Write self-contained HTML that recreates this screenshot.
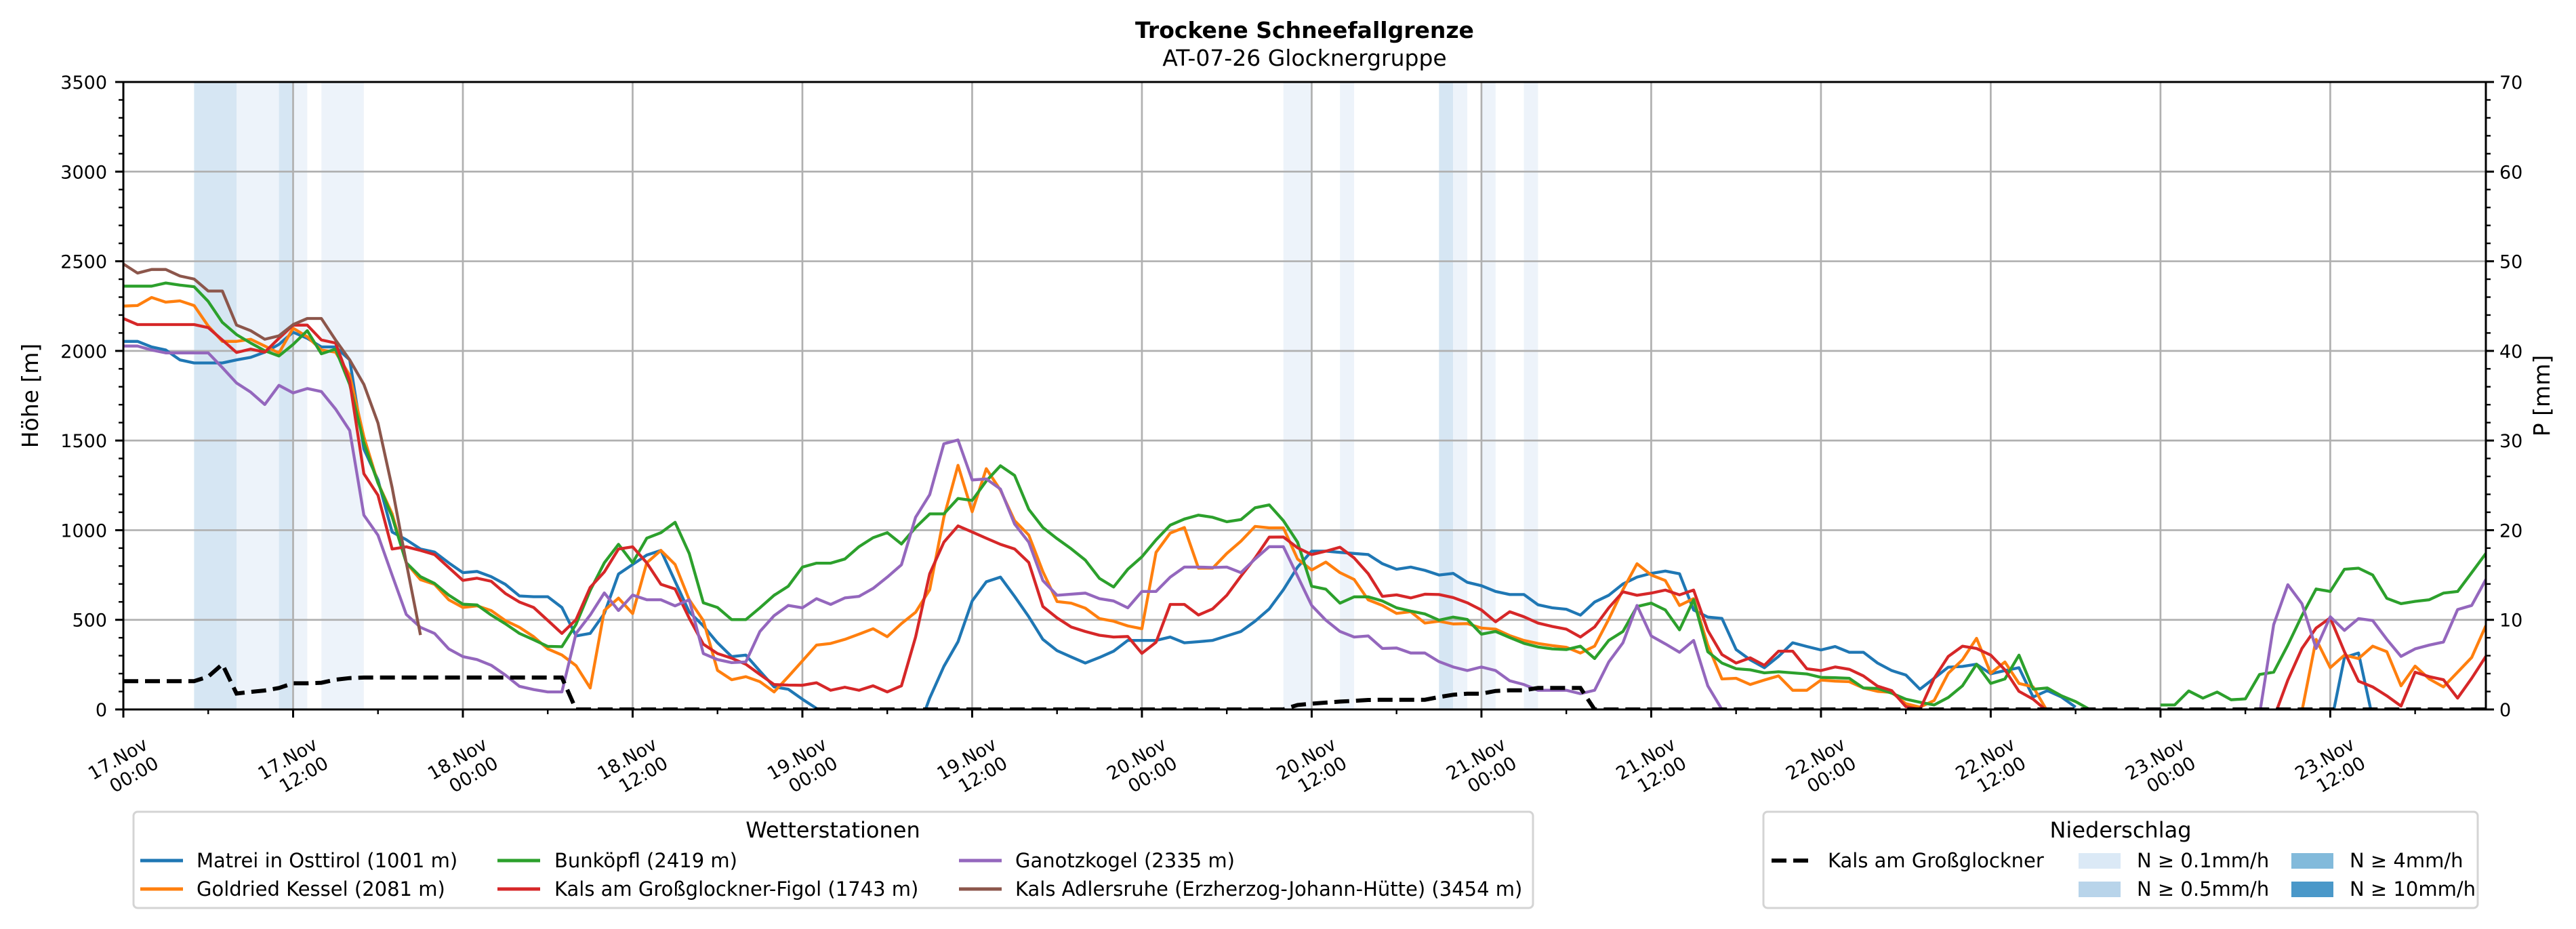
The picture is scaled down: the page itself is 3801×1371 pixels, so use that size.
<!DOCTYPE html>
<html><head><meta charset="utf-8"><style>
html,body{margin:0;padding:0;background:#fff;}
svg{display:block;font-family:"DejaVu Sans","Liberation Sans",sans-serif;}
</style></head><body>
<svg id="chart" width="3801" height="1371" viewBox="0 0 3801 1371" xmlns="http://www.w3.org/2000/svg">
<defs><clipPath id="plotclip"><rect x="182" y="121" width="3486" height="926"/></clipPath></defs>
<text x="1925" y="56" text-anchor="middle" font-size="33" font-weight="bold">Trockene Schneefallgrenze</text>
<text x="1925" y="97" text-anchor="middle" font-size="33">AT-07-26 Glocknergruppe</text>
<g id="bands"></g>
<g id="grid"></g>
<g id="series" clip-path="url(#plotclip)"></g>
<g id="axes"></g>
<text transform="translate(56,584) rotate(-90)" text-anchor="middle" font-size="33">Höhe [m]</text>
<text transform="translate(3762,584) rotate(-90)" text-anchor="middle" font-size="33">P [mm]</text>
<g id="legend1">
<rect x="197" y="1198" width="2065" height="142" rx="6" fill="#fff" stroke="#d4d4d4" stroke-width="3"/>
<text x="1229" y="1236" text-anchor="middle" font-size="32">Wetterstationen</text>
</g>
<g id="legend2">
<rect x="2602" y="1198" width="1054" height="142" rx="6" fill="#fff" stroke="#d4d4d4" stroke-width="3"/>
<text x="3129" y="1236" text-anchor="middle" font-size="32">Niederschlag</text>
<line x1="2614" y1="1270" x2="2670" y2="1270" stroke="#000" stroke-width="6" stroke-dasharray="22,10"/>
<text x="2697" y="1280" font-size="29">Kals am Großglockner</text>
<rect x="3067" y="1259" width="62" height="23" fill="#dbe9f6"/>
<text x="3153" y="1280" font-size="29">N ≥ 0.1mm/h</text>
<rect x="3067" y="1301" width="62" height="23" fill="#b8d4ea"/>
<text x="3153" y="1322" font-size="29">N ≥ 0.5mm/h</text>
<rect x="3381" y="1259" width="62" height="23" fill="#82badb"/>
<text x="3467" y="1280" font-size="29">N ≥ 4mm/h</text>
<rect x="3381" y="1301" width="62" height="23" fill="#4a98c9"/>
<text x="3467" y="1322" font-size="29">N ≥ 10mm/h</text>
</g>
</svg>
<script>
const seriesNames = ["Matrei in Osttirol (1001 m)","Goldried Kessel (2081 m)","Bunköpfl (2419 m)","Kals am Großglockner-Figol (1743 m)","Ganotzkogel (2335 m)","Kals Adlersruhe (Erzherzog-Johann-Hütte) (3454 m)"];
const seriesColors = ["#1f77b4","#ff7f0e","#2ca02c","#d62728","#9467bd","#8c564b"];
const matrei = [2053,2053,2022,2005,1950,1933,1933,1933,1950,1964,1993,2036,
2104,2070,2022,2022,1950,1453,1281,990,947,895,878,818,
763,770,741,698,633,629,629,569,410,424,535,755,
809,861,887,715,544,466,372,295,303,214,126,113,
57,6,null,null,null,null,null,null,-150,63,240,378,
605,712,738,631,517,391,328,293,259,290,325,385,
385,385,404,372,378,385,410,435,492,561,668,794,
883,883,876,870,864,813,782,794,776,750,759,709,
690,658,641,641,584,567,559,526,599,637,700,738,
759,772,757,555,515,508,334,277,233,296,372,351,
332,351,319,319,259,217,192,113,174,236,240,252,
199,217,233,69,105,69,13,null,null,null,null,null,
null,null,null,null,null,null,null,null,null,null,null,null,
-100,290,315,-50,null,null,null,null,null,null,null,null];
const goldried = [2250,2253,2298,2272,2279,2253,2139,2053,2053,2065,2027,1988,
2127,2079,2005,1993,1864,1521,1264,1092,818,724,698,612,
569,578,552,496,458,406,338,304,244,120,552,621,
535,818,887,809,612,496,218,166,183,155,98,183,
271,359,368,391,420,450,406,479,542,668,1072,1362,
1103,1343,1223,1053,973,769,602,593,565,507,492,466,
450,876,984,1015,788,788,870,939,1021,1013,1013,839,
778,822,763,725,611,580,536,545,482,492,477,479,
454,448,412,385,368,356,347,315,353,504,668,813,
750,719,580,618,359,170,174,139,164,187,107,107,
164,158,155,120,101,95,32,13,50,202,277,397,
202,265,145,126,-10,null,null,null,null,null,null,null,
null,null,null,null,null,null,null,null,null,null,-10,391,
233,303,284,353,322,132,242,170,126,208,290,467];
const bunkoepfl = [2361,2361,2361,2379,2367,2358,2276,2159,2091,2044,2001,1972,
2036,2113,1984,2010,1813,1487,1264,1075,818,741,703,638,
587,583,527,478,424,389,352,350,475,664,818,921,
818,955,986,1044,870,595,569,501,501,567,637,687,
794,816,816,839,908,958,986,923,1015,1091,1091,1177,
1166,1274,1359,1305,1116,1015,953,896,833,731,683,782,
851,946,1028,1062,1084,1072,1047,1059,1125,1141,1053,933,
687,671,593,628,628,605,567,549,533,498,515,502,
420,435,401,369,349,338,334,353,284,385,435,574,
593,555,444,612,322,259,227,221,204,210,204,198,
179,177,174,120,117,91,57,40,25,67,132,252,
145,170,303,113,120,76,44,0,null,null,null,null,
25,25,103,63,97,54,59,195,208,359,523,672,
658,782,788,750,620,590,603,612,649,658,763,870];
const figol = [2181,2147,2147,2147,2147,2147,2130,2061,1991,2010,1993,2070,
2144,2144,2061,2044,1830,1315,1195,895,907,887,864,792,
720,732,715,647,599,569,497,424,501,681,767,895,
907,818,698,672,509,364,312,286,252,195,139,136,
135,149,107,124,107,132,98,132,404,757,933,1024,
990,955,921,895,820,574,511,460,435,414,404,407,
313,375,586,586,527,561,637,744,845,961,962,902,
864,883,905,845,757,631,639,622,643,641,624,595,
555,489,545,517,482,463,448,404,460,567,656,637,
649,666,639,666,441,306,259,288,246,325,325,227,
217,237,224,187,130,105,16,0,174,296,353,340,
303,221,101,57,-10,null,null,null,null,null,null,null,
null,null,null,null,null,null,null,null,-50,164,340,454,
511,322,158,126,76,19,208,183,166,63,174,296];
const ganotzkogel = [2027,2027,2005,1989,1989,1989,1989,1907,1821,1770,1701,1808,
1766,1790,1773,1676,1556,1084,972,749,530,458,424,338,
295,278,247,192,129,111,98,98,424,527,650,552,
638,612,612,578,612,312,278,261,265,435,523,580,
567,618,586,622,631,675,738,807,1072,1198,1482,1503,
1280,1286,1229,1034,933,719,637,643,649,618,605,567,
658,658,738,794,794,792,794,763,839,908,908,744,
580,498,435,404,410,340,343,315,315,267,237,217,
237,217,160,139,107,107,107,88,107,265,372,580,
410,366,319,385,132,0,null,null,null,null,null,null,
null,null,null,null,null,null,null,null,null,null,null,null,
null,null,null,null,null,null,null,null,null,null,null,null,
null,null,null,null,null,null,null,-30,473,696,590,340,
517,441,507,496,391,296,338,359,376,557,580,725];
const adlersruhe = [2485,2434,2454,2454,2418,2401,2334,2334,2144,2113,2065,2084,
2147,2181,2181,2061,1950,1813,1598,1238,818,415,null,null];
const kalsPrecip = [3.16,3.16,3.16,3.16,3.16,3.16,3.66,5.04,1.78,1.96,2.12,2.4,
2.92,2.92,2.98,3.32,3.5,3.56,3.56,3.56,3.56,3.56,3.56,3.56,
3.56,3.56,3.56,3.56,3.56,3.56,3.56,3.56,0,0,0,0,
0,0,0,0,0,0,0,0,0,0,0,0,
0,0,0,0,0,0,0,0,0,0,0,0,
0,0,0,0,0,0,0,0,0,0,0,0,
0,0,0,0,0,0,0,0,0,0,0,0.5,
0.64,0.76,0.88,0.96,1.06,1.08,1.08,1.08,1.08,1.38,1.64,1.76,
1.76,2.06,2.14,2.14,2.4,2.4,2.4,2.4,0,0,0,0,
0,0,0,0,0,0,0,0,0,0,0,0,
0,0,0,0,0,0,0,0,0,0,0,0,
0,0,0,0,0,0,0,0,0,0,0,0,
0,0,0,0,0,0,0,0,0,0,0,0,
0,0,0,0,0,0,0,0,0,0,0,0];
const bandStart = [5,8,11,12,14,82,86,93,94,96,99];
const bandEnd   = [8,11,12,13,17,84,87,94,95,97,100];
const bandLevel = [2,1,2,1,1,1,1,2,1,1,1];
const xTickDays = ["17.Nov","17.Nov","18.Nov","18.Nov","19.Nov","19.Nov","20.Nov","20.Nov","21.Nov","21.Nov","22.Nov","22.Nov","23.Nov","23.Nov"];
const xTickTimes = ["00:00","12:00","00:00","12:00","00:00","12:00","00:00","12:00","00:00","12:00","00:00","12:00","00:00","12:00"];
const yTicks = [0,500,1000,1500,2000,2500,3000,3500];
const y2Ticks = [0,10,20,30,40,50,60,70];

const NS="http://www.w3.org/2000/svg";
const L=182,R=3668,T=121,B=1047,HMAX=167;
const xs=h=>L+h*(R-L)/HMAX;
const ys=m=>B-m*(B-T)/3500;
const ys2=p=>B-p*(B-T)/70;
function mk(tag,attrs,parent){const e=document.createElementNS(NS,tag);for(const k in attrs)e.setAttribute(k,attrs[k]);parent.appendChild(e);return e;}
const gB=document.getElementById('bands'),gG=document.getElementById('grid'),gS=document.getElementById('series'),gA=document.getElementById('axes');
const bandColors=["#fff","#edf3fa","#d6e6f3"];
bandStart.forEach((s,i)=>{
  const r=mk('rect',{x:xs(s),y:T,width:xs(bandEnd[i])-xs(s),height:B-T,fill:bandColors[bandLevel[i]]},gB);
  
  
});
xTickDays.forEach((d,i)=>{
  const x=xs(i*12);
  const l=mk('line',{x1:x,y1:T,x2:x,y2:B,stroke:"#b0b0b0","stroke-width":2.7},gG);
  
  
});
yTicks.forEach(v=>{
  const y=ys(v);
  const l=mk('line',{x1:L,y1:y,x2:R,y2:y,stroke:"#b0b0b0","stroke-width":2.7},gG);
  
  
});
const allSeries=[matrei,goldried,bunkoepfl,figol,ganotzkogel,adlersruhe];
function pathFor(arr,fy){let d="",pen=false;arr.forEach((v,h)=>{if(v===null||v===undefined){pen=false;return;}d+=(pen?"L":"M")+xs(h).toFixed(1)+","+fy(v).toFixed(1);pen=true;});return d;}
allSeries.forEach((arr,i)=>{
  const p=mk('path',{d:pathFor(arr,ys),fill:"none",stroke:seriesColors[i],"stroke-width":4.3,"stroke-linejoin":"round"},gS);
  
  
});
const kp=mk('path',{d:pathFor(kalsPrecip,ys2),fill:"none",stroke:"#000","stroke-width":6,"stroke-dasharray":"22,10"},gS);


const sp=mk('rect',{x:L,y:T,width:R-L,height:B-T,fill:"none",stroke:"#000","stroke-width":3},gA);


for(let h=0;h<=HMAX;h+=6){
  const major=h%12===0,x=xs(h);
  const t=mk('line',{x1:x,y1:B,x2:x,y2:B+(major?12:7),stroke:"#000","stroke-width":major?3:2.4},gA);
  
  
}
xTickDays.forEach((d,i)=>{
  const x=xs(i*12);
  const g=mk('g',{transform:`translate(${x+38},1104) rotate(-30)`},gA);
  
  
  const t1=mk('text',{x:0,y:0,"text-anchor":"end","font-size":27},g);t1.textContent=d;
  const t2=mk('text',{x:0,y:32,"text-anchor":"end","font-size":27},g);t2.textContent=xTickTimes[i];
});
for(let v=0;v<=3500;v+=100){
  const major=v%500===0,y=ys(v);
  const t=mk('line',{x1:L-(major?12:7),y1:y,x2:L,y2:y,stroke:"#000","stroke-width":major?3:2.4},gA);
  
  
}
yTicks.forEach(v=>{
  const t=mk('text',{x:158,y:ys(v)+10,"text-anchor":"end","font-size":27},gA);
  
  
  t.textContent=v;
});
for(let v=0;v<=70;v+=2){
  const major=v%10===0,y=ys2(v);
  const t=mk('line',{x1:R,y1:y,x2:R+(major?12:7),y2:y,stroke:"#000","stroke-width":major?3:2.4},gA);
  
  
}
y2Ticks.forEach(v=>{
  const t=mk('text',{x:3688,y:ys2(v)+10,"font-size":27},gA);
  
  
  t.textContent=v;
});
const lg=document.getElementById('legend1');
const legX=[[207,290],[207,290],[734,818],[734,818],[1415,1498],[1415,1498]];
const legY=[1270,1312,1270,1312,1270,1312];
seriesNames.forEach((n,i)=>{
  const l=mk('line',{x1:legX[i][0],y1:legY[i],x2:legX[i][0]+63,y2:legY[i],stroke:seriesColors[i],"stroke-width":5},lg);
  
  
  const t=mk('text',{x:legX[i][1],y:legY[i]+10,"font-size":29},lg);
  
  
  t.textContent=n;
});
</script>
</body></html>
